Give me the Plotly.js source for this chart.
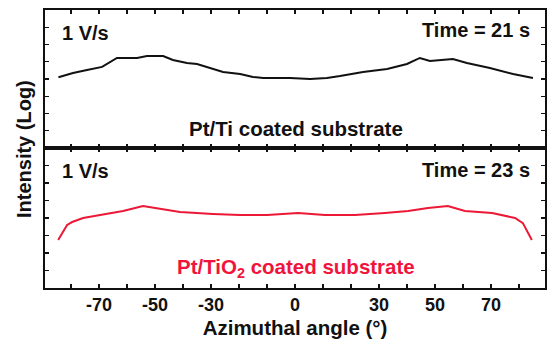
<!DOCTYPE html>
<html>
<head>
<meta charset="utf-8">
<script src="https://cdn.plot.ly/plotly-3.0.1.min.js"></script>
<style>html,body{margin:0;padding:0;background:#fff;}#chart{width:550px;height:346px;}</style>
</head>
<body>
<div id="chart"></div>
<script>
// Pt/Ti coated substrate (Time = 21 s)
var angleTi = [-84.5,-79.3,-74.3,-68.9,-63.6,-56.4,-52.9,-47.1,-43.6,-38.6,-35,-30.4,-25.7,-19.6,-15,-11.4,-1.8,5.4,11.4,16.1,24.3,32.9,40,44.6,48.2,56.4,61.4,69.6,77.9,85];
var intensityTi = [4.10,4.35,4.52,4.70,5.22,5.22,5.33,5.33,5.10,4.93,4.87,4.64,4.41,4.29,4.12,4.06,4.06,4.0,4.06,4.17,4.41,4.58,4.87,5.22,5.04,5.16,4.93,4.64,4.29,4.06];
// Pt/TiO2 coated substrate (Time = 23 s)
var angleTiO2 = [-84.6,-81.4,-79.6,-75.7,-69.6,-61.4,-54.3,-49.3,-41.1,-29.3,-19.6,-10,1.1,10.7,21.4,32.1,40.4,47.5,54.6,60.7,70.4,78.6,81.4,84.6];
var intensityTiO2 = [2.74,3.6,3.77,4.0,4.17,4.4,4.69,4.57,4.34,4.23,4.17,4.17,4.29,4.17,4.17,4.29,4.4,4.57,4.69,4.4,4.29,4.0,3.71,2.74];

var xTickVals = [-80,-70,-60,-50,-40,-30,-20,-10,0,10,20,30,40,50,60,70,80];
var xTickText = ['','-70','','-50','','-30','','','0','','','30','','50','','70',''];
var yTickVals = [1,2,3,4,5,6,7];

function f(size, color){ return {family:'Liberation Sans, Arial, sans-serif', weight:'bold', size:size, color:color||'#111'}; }

var traces = [
  {x: angleTi, y: intensityTi, xaxis:'x2', yaxis:'y2', mode:'lines', line:{color:'#111', width:2}, hoverinfo:'skip'},
  {x: angleTiO2, y: intensityTiO2, xaxis:'x', yaxis:'y', mode:'lines', line:{color:'#ec1836', width:2}, hoverinfo:'skip'}
];

var axisCommon = {showline:true, linecolor:'#111', linewidth:1.8, mirror:'allticks', ticks:'inside', ticklen:4, tickwidth:1.2, tickcolor:'#111', showgrid:false, zeroline:false};

var layout = {
  width:550, height:346,
  margin:{l:45, r:5, t:10, b:58},
  paper_bgcolor:'#fff', plot_bgcolor:'#fff',
  showlegend:false,
  xaxis: Object.assign({}, axisCommon, {range:[-89.3,89.3], tickvals:xTickVals, ticktext:xTickText, tickfont:f(18), anchor:'y',
    title:{text:'Azimuthal angle (°)', font:f(20.5), standoff:6}}),
  yaxis: Object.assign({}, axisCommon, {range:[0,8], domain:[0,0.5036], tickvals:yTickVals, showticklabels:false}),
  xaxis2: Object.assign({}, axisCommon, {range:[-89.3,89.3], tickvals:xTickVals, showticklabels:false, anchor:'y2', matches:'x'}),
  yaxis2: Object.assign({}, axisCommon, {range:[0,8], domain:[0.5036,1], tickvals:yTickVals, showticklabels:false}),
  annotations: [
    {text:'1 V/s', xref:'paper', yref:'paper', x:0.03, y:0.917, xanchor:'left', yanchor:'middle', showarrow:false, font:f(20)},
    {text:'Time = 21 s', xref:'paper', yref:'paper', x:0.974, y:0.928, xanchor:'right', yanchor:'middle', showarrow:false, font:f(20)},
    {text:'Pt/Ti coated substrate', xref:'paper', yref:'paper', x:0.502, y:0.572, xanchor:'center', yanchor:'middle', showarrow:false, font:f(20.5)},
    {text:'1 V/s', xref:'paper', yref:'paper', x:0.03, y:0.421, xanchor:'left', yanchor:'middle', showarrow:false, font:f(20)},
    {text:'Time = 23 s', xref:'paper', yref:'paper', x:0.974, y:0.424, xanchor:'right', yanchor:'middle', showarrow:false, font:f(20)},
    {text:'Pt/TiO<sub>2</sub> coated substrate', xref:'paper', yref:'paper', x:0.502, y:0.072, xanchor:'center', yanchor:'middle', showarrow:false, font:f(20.5,'#f0143c')},
    {text:'Intensity (Log)', xref:'paper', yref:'paper', x:-0.042, y:0.500, xanchor:'center', yanchor:'middle', textangle:-90, showarrow:false, font:f(20)}
  ]
};

Plotly.newPlot('chart', traces, layout, {staticPlot:true, displayModeBar:false});
</script>
</body>
</html>
